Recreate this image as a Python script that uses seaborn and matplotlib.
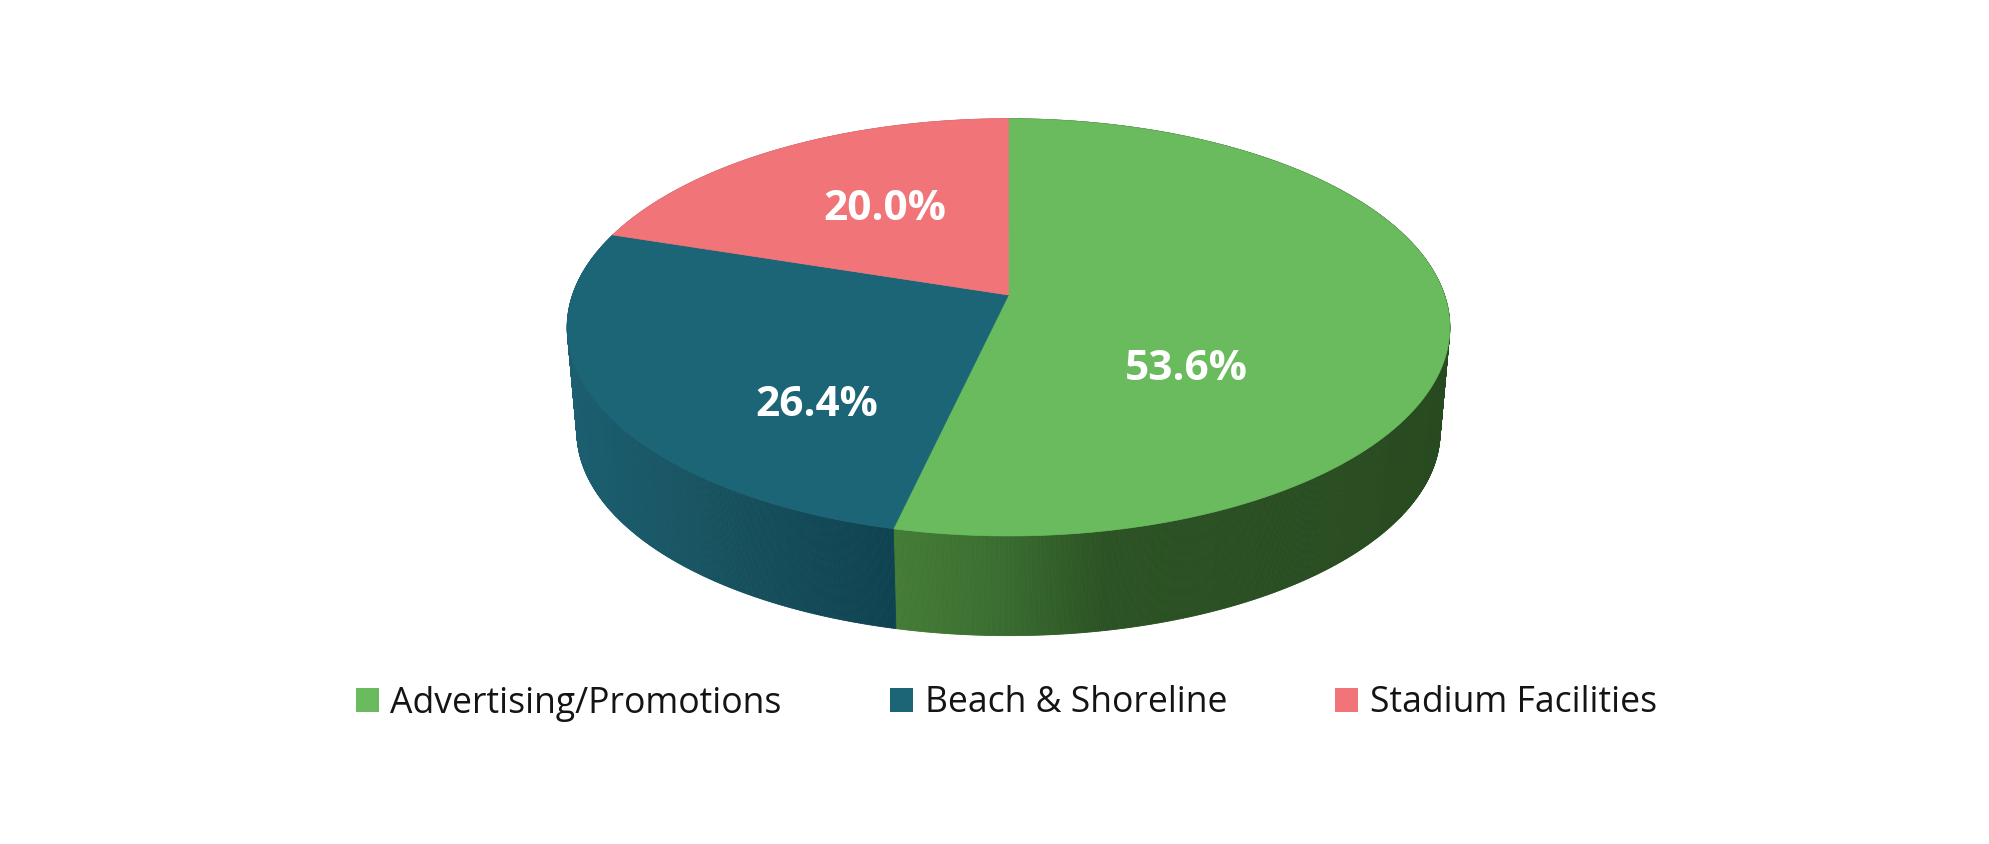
import numpy as np
import matplotlib
matplotlib.use("Agg")
import matplotlib.pyplot as plt
from matplotlib.collections import PolyCollection
from matplotlib.colors import LinearSegmentedColormap
from matplotlib.patches import Patch
import seaborn as sns

categories = ["Advertising/Promotions", "Beach & Shoreline", "Stadium Facilities"]
shares = [53.6, 26.4, 20.0]
share_labels = ["53.6%", "26.4%", "20.0%"]
top_colors = ["#6abb5d", "#1c6576", "#f17578"]
side_stops = [
    [(0.0, "#447c36"), (0.18, "#3a6e30"), (0.38, "#2b5224"), (1.0, "#284a20")],
    [(0.0, "#1c5f71"), (0.45, "#17525f"), (1.0, "#0f4251")],
    [(0.0, "#b85a5c"), (1.0, "#b85a5c")],
]

sns.set_theme(style="white")
plt.rcParams["font.family"] = ["Open Sans", "DejaVu Sans"]

W, H = 1989, 844
fig = plt.figure(figsize=(W / 100, H / 100), dpi=100, facecolor="white")
ax = fig.add_axes([0, 0, 1, 1])
ax.set_xlim(0, W)
ax.set_ylim(H, 0)
ax.axis("off")

# Perspective disc geometry (pixels)
CX, CY = 1008.5, 295.0
RX, RY = 436.0, 203.6
PERSP = 0.155
RIM_SCALE = 0.978
RIM_DROP = 105.0


def project(theta, r=1.0, scale=1.0, drop=0.0):
    u, v = r * np.sin(theta), r * np.cos(theta)
    w = 1 + PERSP * v
    return np.column_stack([CX + scale * RX * u / w, CY + drop - scale * RY * v / w])


edges = np.radians(np.concatenate([[0], np.cumsum(shares)]) * 3.6)

# Side wall, built as fine quads so that the shading follows x
for i in range(len(shares)):
    th = np.linspace(edges[i], edges[i + 1], int(np.degrees(edges[i + 1] - edges[i]) * 4) + 2)
    upper = project(th)
    lower = project(th, scale=RIM_SCALE, drop=RIM_DROP)
    quads = [[upper[k], upper[k + 1], lower[k + 1], lower[k]] for k in range(len(th) - 1)]
    xm = (upper[:-1, 0] + upper[1:, 0]) / 2
    # gradient runs from the front seam outward
    seam = CX + RX * np.sin(edges[1]) / (1 + PERSP * np.cos(edges[1]))
    if i == 0:
        t = (xm - seam) / (CX + 445 - seam)
    else:
        t = (xm - (CX - 445)) / (seam - (CX - 445))
    cmap = LinearSegmentedColormap.from_list(f"side{i}", side_stops[i])
    cols = cmap(np.clip(t, 0, 1))
    ax.add_collection(PolyCollection(quads, facecolors=cols, edgecolors=cols, linewidths=0.6, zorder=2))

# Top face
for i, color in enumerate(top_colors):
    th = np.linspace(edges[i], edges[i + 1], 300)
    pts = np.vstack([[[CX, CY]], project(th)])
    ax.fill(pts[:, 0], pts[:, 1], color=color, lw=0.5, zorder=3)

# Value labels
label_xy = [(1186, 369), (817, 406), (885, 209)]
for (x, y), txt in zip(label_xy, share_labels):
    ax.text(x, y, txt, color="white", fontsize=30.5, fontweight="bold", ha="center", va="center",
            fontstretch="condensed", zorder=4)

handles = [Patch(facecolor=c, edgecolor="none", label=n) for c, n in zip(top_colors, categories)]
leg = fig.legend(handles=handles, loc="center", bbox_to_anchor=(1006.5 / W, 1 - 703.5 / H), ncol=3,
                 frameon=False, fontsize=25.6, handlelength=0.65, handleheight=0.65,
                 handletextpad=0.33, columnspacing=3.04, labelcolor="#141414")

fig.savefig("out.png", dpi=100)
